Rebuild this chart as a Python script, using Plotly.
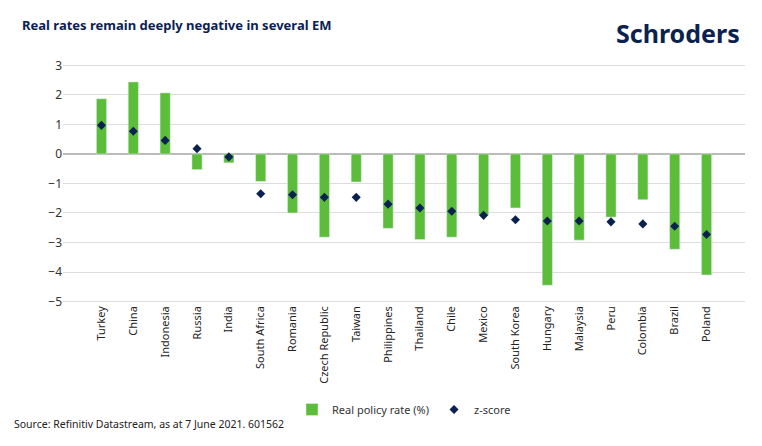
import plotly.graph_objects as go

countries = ["Turkey","China","Indonesia","Russia","India","South Africa","Romania","Czech Republic","Taiwan","Philippines","Thailand","Chile","Mexico","South Korea","Hungary","Malaysia","Peru","Colombia","Brazil","Poland"]
real_rate = [1.87,2.44,2.07,-0.53,-0.30,-0.93,-2.00,-2.82,-0.95,-2.52,-2.90,-2.82,-2.07,-1.83,-4.45,-2.92,-2.14,-1.55,-3.23,-4.10]
zscore = [0.97,0.77,0.46,0.18,-0.10,-1.35,-1.38,-1.47,-1.47,-1.70,-1.83,-1.94,-2.08,-2.23,-2.27,-2.27,-2.30,-2.37,-2.45,-2.73]

fig = go.Figure()
fig.add_bar(x=countries, y=real_rate, name="Real policy rate (%)", marker_color="#5BBD3A", width=0.32)
fig.add_scatter(x=countries, y=zscore, mode="markers", name="z-score",
                marker=dict(symbol="diamond", size=7, color="#0B2150"))
fig.update_layout(
    width=762, height=446, plot_bgcolor="white", paper_bgcolor="white",
    font=dict(family="Noto Sans", color="#333", size=11),
    margin=dict(l=55, r=25, t=53, b=151, autoexpand=False),
    bargap=0.6,
    legend=dict(orientation="h", x=0.5, xanchor="center", y=-0.44, yanchor="middle", font=dict(size=11)),
    yaxis=dict(range=[-5.05, 3.15], dtick=1, gridcolor="#DDDDDD", zeroline=True, zerolinecolor="#BBBBBB",
               tickfont=dict(size=12, color="#333"), tickformat="d", automargin=False),
    xaxis=dict(tickangle=-90, tickfont=dict(size=11, color="#222"), automargin=False),
    annotations=[
        dict(text="<b>Real rates remain deeply negative in several EM</b>", xref="paper", yref="paper",
             x=-0.063, y=1.149, xanchor="left", yanchor="middle", showarrow=False, font=dict(size=13, color="#0B2150")),
        dict(text="<b>Schroders</b>", xref="paper", yref="paper", x=0.995, y=1.116, xanchor="right", yanchor="middle",
             showarrow=False, font=dict(size=25, color="#0B2150")),
        dict(text="Source: Refinitiv Datastream, as at 7 June 2021. 601562", xref="paper", yref="paper",
             x=-0.075, y=-0.5, xanchor="left", yanchor="middle", showarrow=False, font=dict(size=10.5, color="#222")),
    ],
)
fig.write_html("out.html")
